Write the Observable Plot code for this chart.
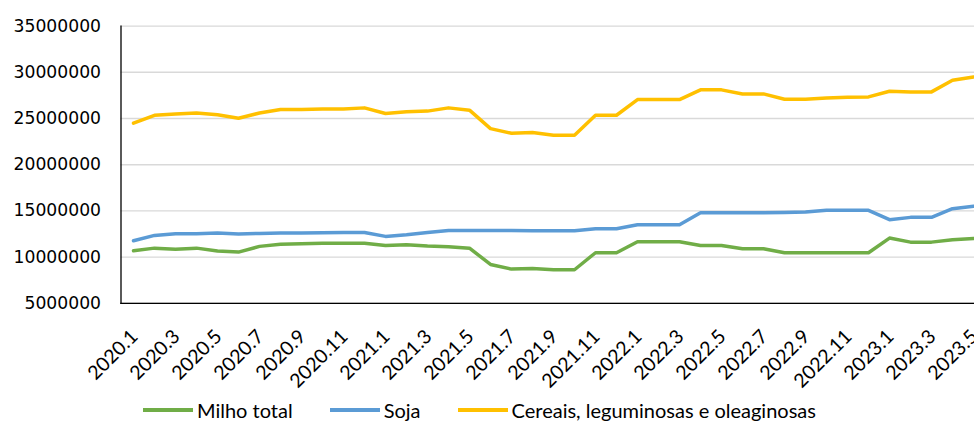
<!DOCTYPE html>
<html><head><meta charset="utf-8">
<script src="https://cdn.jsdelivr.net/npm/d3@7"></script>
<script src="https://cdn.jsdelivr.net/npm/@observablehq/plot@0.6"></script>
<style>
html,body{margin:0;padding:0;background:#fff;overflow:hidden;width:974px;height:421px;position:relative;}
#chart{position:absolute;left:0;top:0;width:986px;}
#legend{position:absolute;left:143px;top:398px;display:flex;align-items:center;font-family:Lato,"Noto Sans",sans-serif;font-size:20px;color:#000;white-space:nowrap;}
.item{display:flex;align-items:center;margin-right:37px;}
.sw{width:50px;height:3.5px;margin-right:4px;}
</style>
</head><body>
<div id="chart"></div>
<div id="legend"></div>
<script>
const periods = ["2020.1","2020.2","2020.3","2020.4","2020.5","2020.6","2020.7","2020.8","2020.9","2020.10","2020.11","2020.12",
"2021.1","2021.2","2021.3","2021.4","2021.5","2021.6","2021.7","2021.8","2021.9","2021.10","2021.11","2021.12",
"2022.1","2022.2","2022.3","2022.4","2022.5","2022.6","2022.7","2022.8","2022.9","2022.10","2022.11","2022.12",
"2023.1","2023.2","2023.3","2023.4","2023.5"];
const xTickLabels = ["2020.1","2020.3","2020.5","2020.7","2020.9","2020.11","2021.1","2021.3","2021.5","2021.7","2021.9","2021.11",
"2022.1","2022.3","2022.5","2022.7","2022.9","2022.11","2023.1","2023.3","2023.5"];
const yTicks = [5000000,10000000,15000000,20000000,25000000,30000000,35000000];
const seriesNames = ["Milho total","Soja","Cereais, leguminosas e oleaginosas"];
const seriesColors = ["#70AD47","#5B9BD5","#FFC000"];
const milho = [10690000,10970000,10860000,10970000,10650000,10540000,11160000,11400000,11450000,11510000,11510000,11510000,
11260000,11340000,11190000,11120000,10970000,9200000,8700000,8770000,8630000,8630000,10470000,10470000,
11660000,11660000,11660000,11260000,11260000,10900000,10900000,10470000,10470000,10470000,10470000,10470000,
12060000,11620000,11620000,11880000,12020000];
const soja = [11770000,12350000,12530000,12530000,12600000,12490000,12560000,12600000,12600000,12640000,12670000,12670000,
12240000,12420000,12670000,12890000,12890000,12890000,12890000,12850000,12860000,12860000,13070000,13070000,
13500000,13500000,13500000,14800000,14800000,14800000,14800000,14830000,14880000,15060000,15060000,15060000,
14050000,14300000,14300000,15240000,15500000];
const cereais = [24490000,25350000,25500000,25600000,25400000,25030000,25600000,25970000,25970000,26040000,26040000,26150000,
25540000,25720000,25800000,26150000,25900000,23900000,23400000,23480000,23190000,23190000,25350000,25350000,
27050000,27050000,27050000,28100000,28100000,27660000,27660000,27090000,27090000,27230000,27300000,27340000,
27950000,27880000,27880000,29150000,29500000];

const seriesValues = [milho, soja, cereais];
const data = [];
seriesNames.forEach((name, k) => seriesValues[k].forEach((v, i) => data.push({period: periods[i], value: v, series: name})));

const chart = Plot.plot({
  width: 986, height: 390,
  marginLeft: 120.5, marginRight: 0, marginTop: 25.6, marginBottom: 87.2,
  style: {background: "#fff", color: "#000", overflow: "visible", maxWidth: "none"},
  x: {type: "point", domain: periods, padding: 0.5},
  y: {domain: [5000000, 35000000]},
  color: {domain: seriesNames, range: seriesColors},
  marks: [
    Plot.gridY(yTicks, {stroke: "#d9d9d9", strokeOpacity: 1, strokeWidth: 1.4}),
    Plot.line(data, {x: "period", y: "value", stroke: "series", strokeWidth: 3.5, strokeLinejoin: "round", strokeLinecap: "round"}),
    Plot.frame({anchor: "left", stroke: "#000", strokeWidth: 1.3}),
    Plot.frame({anchor: "bottom", stroke: "#000", strokeWidth: 1.3}),
    Plot.axisY(yTicks, {tickSize: 0, tickPadding: 20, tickFormat: d => String(d), label: null, fontFamily: "DejaVu Sans", fontSize: 17.2, fill: "#000"}),
    Plot.axisX(xTickLabels, {tickSize: 0, tickPadding: 30, dx: 1, tickRotate: -45, label: null, fontFamily: "Lato", fontSize: 19.5, fill: "#000"})
  ]
});
document.getElementById("chart").appendChild(chart);

const legend = document.getElementById("legend");
seriesNames.forEach((name, k) => {
  const it = document.createElement("div");
  it.className = "item";
  const sw = document.createElement("span");
  sw.className = "sw";
  sw.style.background = seriesColors[k];
  const tx = document.createElement("span");
  tx.textContent = name;
  it.appendChild(sw); it.appendChild(tx);
  legend.appendChild(it);
});
</script>
</body></html>
